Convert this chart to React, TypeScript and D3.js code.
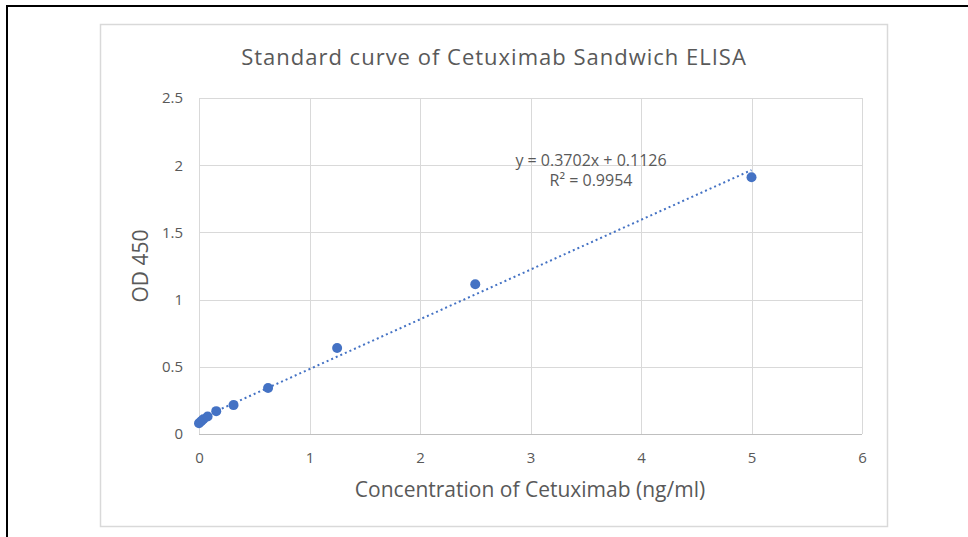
import React, { useEffect, useRef } from "react";
import * as d3 from "d3";

const concentrations = [0, 0.0195, 0.039, 0.078, 0.156, 0.3125, 0.625, 1.25, 2.5, 5];
const odValues = [0.08, 0.095, 0.11, 0.13, 0.17, 0.215, 0.342, 0.64, 1.114, 1.91];
const xTicks = [0, 1, 2, 3, 4, 5, 6];
const yTicks = [0, 0.5, 1, 1.5, 2, 2.5];
const slope = 0.3702;
const intercept = 0.1126;

const App: React.FC = () => {
  const svgRef = useRef<SVGSVGElement | null>(null);

  useEffect(() => {
    if (!svgRef.current) return;
    const width = 968;
    const height = 537;
    const margin = { top: 98, right: 106, bottom: 103, left: 199 };
    const plotWidth = width - margin.left - margin.right;
    const plotHeight = height - margin.top - margin.bottom;
    const font = "'Open Sans', 'Noto Sans', sans-serif";
    const textColor = "#595959";
    const gridColor = "#d9d9d9";
    const blue = "#4472c4";

    const svg = d3.select(svgRef.current);
    svg.selectAll("*").remove();

    // frame lines of the page
    svg.append("line").attr("x1", 6).attr("x2", width).attr("y1", 6).attr("y2", 6)
      .attr("stroke", "#000").attr("stroke-width", 2);
    svg.append("line").attr("x1", 7).attr("x2", 7).attr("y1", 6).attr("y2", height)
      .attr("stroke", "#000").attr("stroke-width", 2);

    // chart area border
    svg.append("rect").attr("x", 100.5).attr("y", 24.5).attr("width", 787).attr("height", 502)
      .attr("fill", "#fff").attr("stroke", gridColor).attr("stroke-width", 1.5);

    const x = d3.scaleLinear().domain([0, 6]).range([0, plotWidth]);
    const y = d3.scaleLinear().domain([0, 2.5]).range([plotHeight, 0]);

    const g = svg.append("g").attr("transform", `translate(${margin.left},${margin.top})`);

    g.selectAll(".vgrid").data(xTicks).enter().append("line")
      .attr("x1", d => Math.round(x(d)) + 0.5).attr("x2", d => Math.round(x(d)) + 0.5)
      .attr("y1", 0).attr("y2", plotHeight).attr("stroke", gridColor);
    g.selectAll(".hgrid").data(yTicks).enter().append("line")
      .attr("x1", 0).attr("x2", plotWidth)
      .attr("y1", d => Math.round(y(d)) + 0.5).attr("y2", d => Math.round(y(d)) + 0.5)
      .attr("stroke", d => (d === 0 ? "#bfbfbf" : gridColor));

    const xAxis = g.append("g").attr("transform", `translate(0,${plotHeight})`)
      .call(d3.axisBottom(x).tickValues(xTicks).tickSize(0).tickPadding(18).tickFormat(d3.format("d")));
    const yAxis = g.append("g")
      .call(d3.axisLeft(y).tickValues(yTicks).tickSize(0).tickPadding(16).tickFormat(d => String(d)));
    [xAxis, yAxis].forEach(a => {
      a.select(".domain").remove();
      a.selectAll("text").attr("fill", textColor).style("font-family", font).style("font-size", "15px");
    });

    // trendline
    g.append("line")
      .attr("x1", x(0)).attr("y1", y(intercept))
      .attr("x2", x(5)).attr("y2", y(slope * 5 + intercept))
      .attr("stroke", blue).attr("stroke-width", 2).attr("stroke-dasharray", "2,3");

    g.selectAll("circle").data(concentrations).enter().append("circle")
      .attr("cx", d => x(d)).attr("cy", (d, i) => y(odValues[i]))
      .attr("r", 5).attr("fill", blue);

    g.append("text").attr("x", 392).attr("y", 68).attr("text-anchor", "middle")
      .attr("fill", textColor).style("font-family", font).style("font-size", "16px")
      .text(`y = ${slope}x + ${intercept}`);
    g.append("text").attr("x", 392).attr("y", 88).attr("text-anchor", "middle")
      .attr("fill", textColor).style("font-family", font).style("font-size", "16px")
      .text("R² = 0.9954");

    svg.append("text").attr("x", 494).attr("y", 65).attr("text-anchor", "middle")
      .attr("fill", textColor).style("font-family", font).style("font-size", "22px")
      .style("letter-spacing", "1px")
      .text("Standard curve of Cetuximab Sandwich ELISA");
    svg.append("text").attr("x", 530).attr("y", 497).attr("text-anchor", "middle")
      .attr("fill", textColor).style("font-family", font).style("font-size", "21px")
      .text("Concentration of Cetuximab (ng/ml)");
    svg.append("text").attr("transform", "translate(148,266) rotate(-90)").attr("text-anchor", "middle")
      .attr("fill", textColor).style("font-family", font).style("font-size", "21px")
      .text("OD 450");
  }, []);

  return (
    <svg ref={svgRef} width={968} height={537}
      style={{ position: "absolute", left: 0, top: 0, background: "#fff" }} />
  );
};

export default App;
